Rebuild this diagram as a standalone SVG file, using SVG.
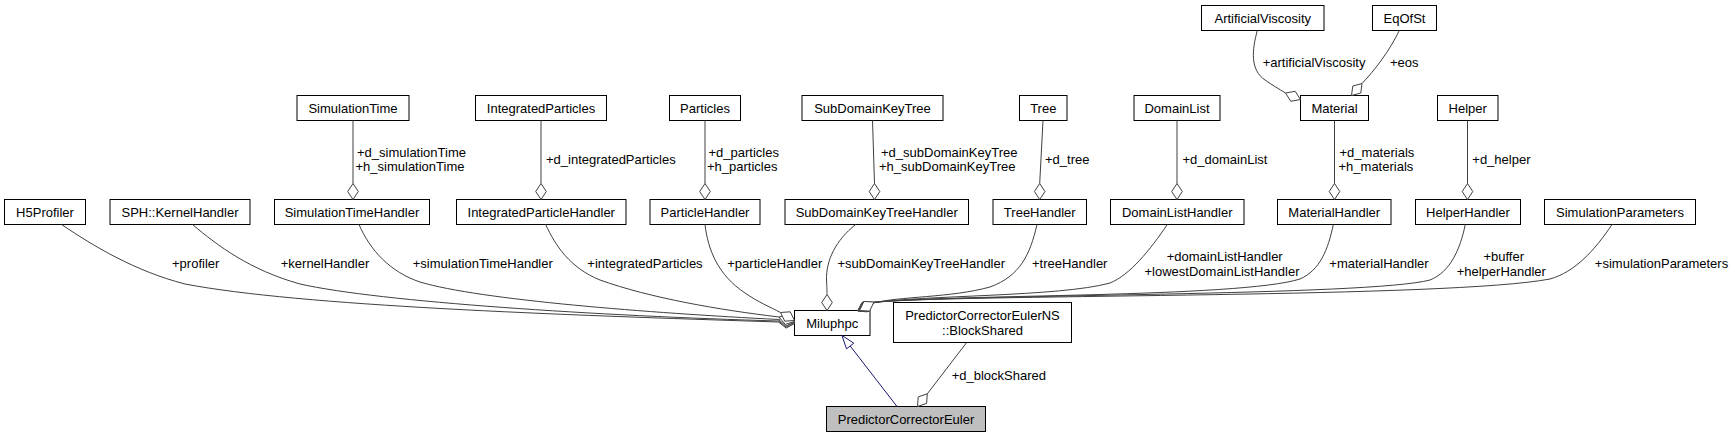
<svg xmlns="http://www.w3.org/2000/svg" width="1735" height="439" viewBox="0 0 1735 439">
<style>
text{font-family:"Liberation Sans",Arial,Helvetica,sans-serif;font-size:13px;fill:#000}
.node rect{fill:#fff;stroke:#000;stroke-width:1}
.node text{text-anchor:middle}
.node.cur rect{fill:#bfbfbf}
.edge{fill:none;stroke:#404040;stroke-width:1}
.dia{fill:#fff;stroke:#404040;stroke-width:1}
.inh{fill:none;stroke:#191970;stroke-width:1}
.inhh{fill:#fff;stroke:#191970;stroke-width:1}
.m{text-anchor:middle}
</style>
<rect width="1735" height="439" fill="#fff"/>

<g id="n_ArtificialViscosity" class="node"><rect x="1201.5" y="5.5" width="122.5" height="25"/><text x="1262.75" y="22.5">ArtificialViscosity</text></g>
<g id="n_EqOfSt" class="node"><rect x="1372.5" y="5.5" width="64" height="25"/><text x="1404.5" y="22.5">EqOfSt</text></g>

<g id="n_SimulationTime" class="node"><rect x="297" y="95.5" width="112" height="25"/><text x="353" y="112.5">SimulationTime</text></g>
<g id="n_IntegratedParticles" class="node"><rect x="475.5" y="95.5" width="131" height="25"/><text x="541" y="112.5">IntegratedParticles</text></g>
<g id="n_Particles" class="node"><rect x="669.5" y="95.5" width="71" height="25"/><text x="705" y="112.5">Particles</text></g>
<g id="n_SubDomainKeyTree" class="node"><rect x="802" y="95.5" width="141" height="25"/><text x="872.5" y="112.5">SubDomainKeyTree</text></g>
<g id="n_Tree" class="node"><rect x="1019.5" y="95.5" width="47.5" height="25"/><text x="1043.25" y="112.5">Tree</text></g>
<g id="n_DomainList" class="node"><rect x="1134" y="95.5" width="86" height="25"/><text x="1177" y="112.5">DomainList</text></g>
<g id="n_Material" class="node"><rect x="1300.5" y="95.5" width="68" height="25"/><text x="1334.5" y="112.5">Material</text></g>
<g id="n_Helper" class="node"><rect x="1437.5" y="95.5" width="60.5" height="25"/><text x="1467.75" y="112.5">Helper</text></g>

<g id="n_H5Profiler" class="node"><rect x="4.5" y="199.5" width="81" height="25"/><text x="45" y="216.5">H5Profiler</text></g>
<g id="n_KernelHandler" class="node"><rect x="110" y="199.5" width="140" height="25"/><text x="180" y="216.5">SPH::KernelHandler</text></g>
<g id="n_SimulationTimeHandler" class="node"><rect x="274.5" y="199.5" width="155" height="25"/><text x="352" y="216.5">SimulationTimeHandler</text></g>
<g id="n_IntegratedParticleHandler" class="node"><rect x="456.5" y="199.5" width="169.5" height="25"/><text x="541.25" y="216.5">IntegratedParticleHandler</text></g>
<g id="n_ParticleHandler" class="node"><rect x="650" y="199.5" width="110" height="25"/><text x="705" y="216.5">ParticleHandler</text></g>
<g id="n_SubDomainKeyTreeHandler" class="node"><rect x="785" y="199.5" width="183.5" height="25"/><text x="876.75" y="216.5">SubDomainKeyTreeHandler</text></g>
<g id="n_TreeHandler" class="node"><rect x="993" y="199.5" width="93.5" height="25"/><text x="1039.75" y="216.5">TreeHandler</text></g>
<g id="n_DomainListHandler" class="node"><rect x="1110.5" y="199.5" width="133.5" height="25"/><text x="1177.25" y="216.5">DomainListHandler</text></g>
<g id="n_MaterialHandler" class="node"><rect x="1277.5" y="199.5" width="113.5" height="25"/><text x="1334.25" y="216.5">MaterialHandler</text></g>
<g id="n_HelperHandler" class="node"><rect x="1415.5" y="199.5" width="105" height="25"/><text x="1468" y="216.5">HelperHandler</text></g>
<g id="n_SimulationParameters" class="node"><rect x="1544.5" y="199.5" width="151" height="25"/><text x="1620" y="216.5">SimulationParameters</text></g>

<g id="n_Miluphpc" class="node"><rect x="794.5" y="310.5" width="75.5" height="25"/><text x="832.25" y="327.5">Miluphpc</text></g>
<g id="n_BlockShared" class="node"><rect x="893.5" y="302.5" width="178" height="40"/><text x="982.5" y="319.5">PredictorCorrectorEulerNS</text><text x="982.5" y="334.5">::BlockShared</text></g>
<g id="n_PredictorCorrectorEuler" class="node cur"><rect x="826.5" y="406.5" width="159" height="25"/><text x="906" y="423.5">PredictorCorrectorEuler</text></g>

<g id="connectors">
  <!-- ArtificialViscosity -> Material -->
  <path class="edge" d="M1257.3,30.5 C1252,50 1250,70 1265,80 C1272,85 1279,89 1285.5,93"/>
  <polygon class="dia" points="1285.5,93 1290.8,101.3 1300.5,99.5 1295.2,91.3"/>
  <text x="1262.7" y="67">+artificialViscosity</text>
  <!-- EqOfSt -> Material -->
  <path class="edge" d="M1399.3,30.5 C1390,50 1375,70 1362,83.5"/>
  <polygon class="dia" points="1362,83.5 1352.8,86 1351.5,95.5 1360.8,93"/>
  <text x="1390" y="67">+eos</text>

  <!-- top row -> handlers -->
  <path class="edge" d="M353,120.5 L353,183.5"/>
  <polygon class="dia" points="353,183.5 347.7,191.5 353,199.5 358.3,191.5"/>
  <text x="357" y="156.5">+d_simulationTime</text>
  <text x="355.5" y="171">+h_simulationTime</text>

  <path class="edge" d="M541,120.5 L541,183.5"/>
  <polygon class="dia" points="541,183.5 535.7,191.5 541,199.5 546.3,191.5"/>
  <text x="546" y="163.5">+d_integratedParticles</text>

  <path class="edge" d="M705,120.5 L705,183.5"/>
  <polygon class="dia" points="705,183.5 699.7,191.5 705,199.5 710.3,191.5"/>
  <text x="708.5" y="156.5">+d_particles</text>
  <text x="707" y="171">+h_particles</text>

  <path class="edge" d="M872.5,120.5 L874.5,183.5"/>
  <polygon class="dia" points="874.5,183.5 869.2,191.5 874.5,199.5 879.8,191.5"/>
  <text x="881" y="156.5">+d_subDomainKeyTree</text>
  <text x="879" y="171">+h_subDomainKeyTree</text>

  <path class="edge" d="M1043,120.5 L1039.7,183.5"/>
  <polygon class="dia" points="1039.7,183.5 1034.4,191.5 1039.7,199.5 1045,191.5"/>
  <text x="1045" y="163.5">+d_tree</text>

  <path class="edge" d="M1177,120.5 L1177,183.5"/>
  <polygon class="dia" points="1177,183.5 1171.7,191.5 1177,199.5 1182.3,191.5"/>
  <text x="1182.5" y="163.5">+d_domainList</text>

  <path class="edge" d="M1334.5,120.5 L1334.5,183.5"/>
  <polygon class="dia" points="1334.5,183.5 1329.2,191.5 1334.5,199.5 1339.8,191.5"/>
  <text x="1339.5" y="156.5">+d_materials</text>
  <text x="1338.5" y="171">+h_materials</text>

  <path class="edge" d="M1467.5,120.5 L1467.5,183.5"/>
  <polygon class="dia" points="1467.5,183.5 1462.2,191.5 1467.5,199.5 1472.8,191.5"/>
  <text x="1472.3" y="163.5">+d_helper</text>

  <!-- left handlers -> Miluphpc -->
  <path class="edge" d="M61.5,224.5 C95,247 135,271 185,284 C300,306 560,315 778.6,322"/>
  <polygon class="dia" points="778.6,322 786.1,328.1 794.5,323.5 787.1,317.5"/>
  <text class="m" x="195.7" y="267.5">+profiler</text>

  <path class="edge" d="M192.5,224.5 C218,246 250,270 300,284 C380,302 600,316 778.6,321"/>
  <polygon class="dia" points="778.6,321 786.1,327.1 794.5,322.5 787.1,316.5"/>
  <text class="m" x="325" y="267.5">+kernelHandler</text>

  <path class="edge" d="M359,224.5 C370,250 390,272 420,282 C480,300 650,313 778.7,319.5"/>
  <polygon class="dia" points="778.7,319.5 785.8,326 794.5,322 787.4,315.5"/>
  <text class="m" x="482.8" y="267.5">+simulationTimeHandler</text>

  <path class="edge" d="M545.7,224.5 C555,245 570,268 600,280 C650,298 720,310 779,317"/>
  <polygon class="dia" points="779,317 785.3,324.4 794.5,321.5 788.3,314.1"/>
  <text class="m" x="645" y="267.5">+integratedParticles</text>

  <path class="edge" d="M705,224.5 C708,250 718,275 745,293 C758,302 770,307 780.5,312.5"/>
  <polygon class="dia" points="780.5,312.5 784.8,321.2 794.5,320.5 790.2,311.8"/>
  <text class="m" x="774.8" y="267.5">+particleHandler</text>

  <path class="edge" d="M855.7,224.5 C836,240 826,260 826.5,280 C827,288 827,292 827,294.5"/>
  <polygon class="dia" points="827,294.5 821.7,302.5 827,310.5 832.3,302.5"/>
  <text class="m" x="921.3" y="267.5">+subDomainKeyTreeHandler</text>

  <!-- right handlers -> Miluphpc -->
  <path class="edge" d="M1037,224.5 C1030,255 1020,276 990,287 C950,298 900,296 871,303.5"/>
  <polygon class="dia" points="871,303.5 861.8,302.8 857.5,311 866.8,311.8"/>
  <text class="m" x="1069.7" y="267.5">+treeHandler</text>

  <path class="edge" d="M1167.3,224.5 C1150,250 1130,275 1110,283 C1060,297 920,295 872,303"/>
  <polygon class="dia" points="872,303 862.3,302.3 858,311 867.7,311.7"/>
  <text class="m" x="1224.7" y="260.5">+domainListHandler</text>
  <text class="m" x="1222" y="275.5">+lowestDomainListHandler</text>

  <path class="edge" d="M1333.3,224.5 C1328,250 1320,270 1300,279 C1240,298 950,294 873,302.5"/>
  <polygon class="dia" points="873,302.5 863,301.8 858.5,310.8 868.5,311.5"/>
  <text class="m" x="1379" y="267.5">+materialHandler</text>

  <path class="edge" d="M1465.3,224.5 C1460,250 1450,272 1430,280 C1370,296 970,294 873.5,302.3"/>
  <polygon class="dia" points="873.5,302.3 863.5,301.7 859,310.7 869.1,311.3"/>
  <text class="m" x="1503.7" y="260.5">+buffer</text>
  <text class="m" x="1501.3" y="275.5">+helperHandler</text>

  <path class="edge" d="M1612,224.5 C1595,250 1575,272 1550,279 C1450,298 980,294 874,302"/>
  <polygon class="dia" points="874,302 863.9,301.5 859.5,310.6 869.6,311.1"/>
  <text class="m" x="1661.5" y="267.5">+simulationParameters</text>

  <!-- BlockShared -> PredictorCorrectorEuler -->
  <path class="edge" d="M966.7,342.5 L927.3,393.8"/>
  <polygon class="dia" points="927.3,393.8 918.2,396.9 917.5,406.5 926.6,403.4"/>
  <text x="951.7" y="379.5">+d_blockShared</text>

  <!-- inheritance PredictorCorrectorEuler -> Miluphpc -->
  <path class="inh" d="M897,406.5 L850.2,346"/>
  <polygon class="inhh" points="842,335.5 846.5,348.9 853.8,343.2"/>
</g>
</svg>
